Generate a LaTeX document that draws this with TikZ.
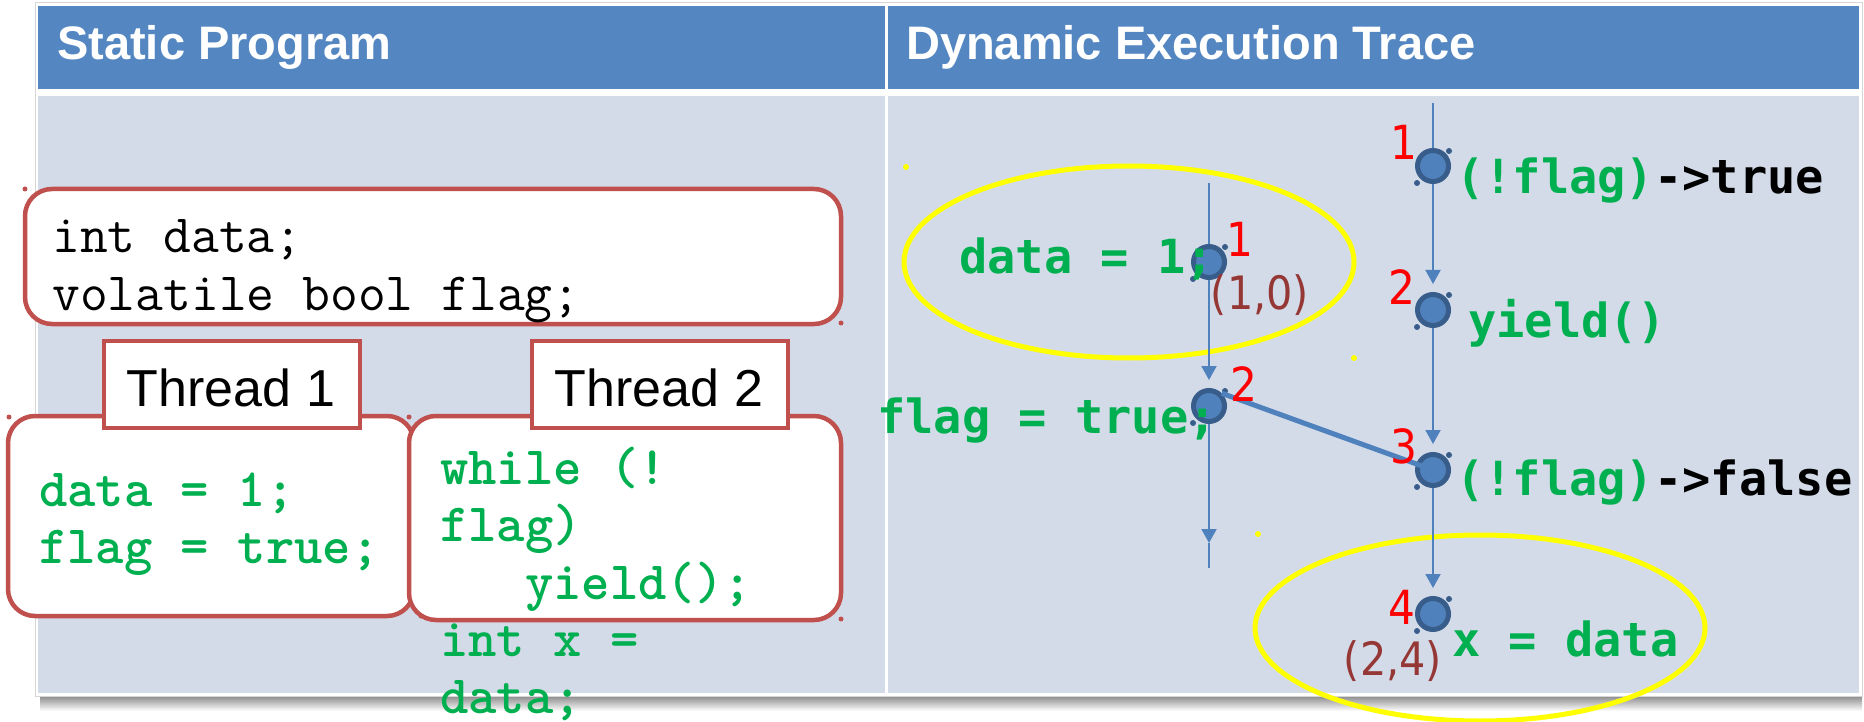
\documentclass[tikz,border=0pt]{standalone}
\usepackage{fontspec}
\setmainfont{Liberation Sans}
\newfontfamily\tracefont{DejaVu Sans Mono}
\newfontfamily\numfont[FakeStretch=0.9]{DejaVu Sans}
\newfontfamily\slabbold{lmmonolt10-bold}[Extension=.otf]
\usetikzlibrary{arrows.meta,calc}

\definecolor{hdrblue}{HTML}{5487C2}
\definecolor{bodyblue}{HTML}{D3DBE9}
\definecolor{frame}{HTML}{D6D6D6}
\definecolor{boxred}{HTML}{C0504D}
\definecolor{codegreen}{HTML}{00B050}
\definecolor{evtfill}{HTML}{4F81BD}
\definecolor{evtedge}{HTML}{385D8A}
\definecolor{flowblue}{HTML}{4F81BD}
\definecolor{pairbrown}{HTML}{953735}
\definecolor{hiyellow}{HTML}{FFFF00}

\tikzset{
  hdrtext/.style={anchor=base west, inner sep=0pt, text=white,
    font=\fontsize{47}{56}\selectfont\bfseries},
  codebox/.style={draw=boxred, line width=4.5pt, fill=white, rounded corners=27pt,
    inner sep=0pt},
  tagbox/.style={draw=boxred, line width=4.5pt, fill=white, inner sep=0pt,
    minimum width=256pt, minimum height=87pt},
  tagtext/.style={anchor=base, inner sep=0pt, font=\fontsize{52}{60}\selectfont},
  decltext/.style={anchor=base west, inner sep=0pt,
    font=\ttfamily\fontsize{54}{57}\selectfont},
  stmt/.style={anchor=base west, inner sep=0pt, text=codegreen,
    font=\slabbold\fontsize{54}{57}\selectfont},
  trace/.style={anchor=base west, inner sep=0pt, text=codegreen,
    font=\tracefont\bfseries\fontsize{47}{57}\selectfont},
  order/.style={anchor=base, inner sep=0pt, text=red,
    font=\numfont\fontsize{47}{57}\selectfont},
  pair/.style={anchor=base, inner sep=0pt, text=pairbrown,
    font=\numfont\fontsize{46}{57}\selectfont},
  evt/.style={circle, fill=evtfill, draw=evtedge, line width=5pt,
    minimum size=31pt, inner sep=0pt},
  flow/.style={draw=flowblue, line width=2pt},
  flowtip/.style={flow, -{Triangle[width=15pt,length=14pt]}, shorten >=8pt},
  sync/.style={draw=flowblue, line width=5pt},
  hilite/.style={draw=hiyellow, line width=5pt},
  handle/.style={fill=evtedge},
}

\begin{document}
\begin{tikzpicture}[x=1pt,y=-1pt]
\useasboundingbox (0,0) rectangle (1864,722);
\fill[white] (0,0) rectangle (1864,722);

% ---- table ----
\shade[top color=black!45, bottom color=white] (40,696) rectangle (1862,711);
\draw[frame, line width=1pt, fill=white] (35,3) rectangle (1862,696);
\fill[hdrblue] (38,6) rectangle (1859,89);
\fill[bodyblue] (38,96) rectangle (1859,693);
\fill[white] (884.5,6) rectangle (887.5,693);
\node[hdrtext] (h1) at (57,60) {Static Program};
\node[hdrtext] (h2) at (906,60) {Dynamic Execution Trace};

% ---- static program ----
\node[codebox, minimum width=816pt, minimum height=135pt] (decl) at (433,256.5) {};
\node[decltext] (d1) at (52,253) {int data;};
\node[decltext] (d2) at (52,310) {volatile bool flag;};

\node[codebox, minimum width=406pt, minimum height=200pt] (body1) at (211,516) {};
\node[codebox, minimum width=432pt, minimum height=204pt] (body2) at (625,518) {};
\node[tagbox] (tag1) at (232,384.5) {};
\node[tagbox] (tag2) at (660,384.5) {};
\node[tagtext] (tag1t) at (231,406) {Thread 1};
\node[tagtext] (tag2t) at (659,406) {Thread 2};

\node[stmt] (s11) at (39,506) {data = 1;};
\node[stmt] (s12) at (39,563) {flag = true;};
\node[stmt] (s21) at (440,484) {while (!};
\node[stmt] (s22) at (440,541) {flag)};
\node[stmt] (s23) at (525,599) {yield();};
\node[stmt] (s24) at (440,656) {int x =};
\node[stmt] (s25) at (440,713) {data;};

% selection handles
\foreach \p in {(25,189),(841,323),(9,417),(409,417),(421,616),(841,619)}
  \fill[boxred] \p circle (2.5pt);

% ---- dynamic trace ----
\draw[hilite] (1129,262) ellipse [x radius=225pt, y radius=96pt];
\draw[hilite] (1480,628) ellipse [x radius=225pt, y radius=93pt];
\foreach \p in {(906,167),(1354,358),(1258,534)}
  \fill[hiyellow] \p circle (3pt);

\coordinate (Ltop) at (1209,183);
\coordinate (Lmid) at (1209,543);
\coordinate (Lbot) at (1209,568);
\coordinate (Rtop) at (1433,103);

\node[evt] (L1) at (1209,262) {};
\node[evt] (L2) at (1209,406) {};
\node[evt] (R1) at (1433,166) {};
\node[evt] (R2) at (1433,310) {};
\node[evt] (R3) at (1433,470) {};
\node[evt] (R4) at (1433,614) {};

\draw[flow] (Ltop) -- (L1);
\draw[flowtip] (L1) -- (L2);
\draw[flowtip, shorten >=0pt] (L2) -- (Lmid);
\draw[flow] (Lmid) -- (Lbot);
\draw[flow] (Rtop) -- (R1);
\draw[flowtip] (R1) -- (R2);
\draw[flowtip] (R2) -- (R3);
\draw[flowtip] (R3) -- (R4);

\foreach \n in {L1,L2,R1,R2,R3,R4}{
  \fill[handle] ($(\n.center)+(16,-15)$) circle (3pt);
  \fill[handle] ($(\n.center)+(-16,17)$) circle (3pt);
}

\draw[sync] (L2.north east) -- (R3.center);

\node[trace] (w1) at (959,273) {data = 1;};
\node[trace] (w2) at (877,433) {flag = true;};
\node[trace] (r1) at (1456,194) {(!flag)\textcolor{black}{->true}};
\node[trace] (r2) at (1468,337) {yield()};
\node[trace] (r3) at (1456,495) {(!flag)\textcolor{black}{->false}};
\node[trace] (r4) at (1452,656) {x = data};

\node[order] (nL1) at (1240,257) {1};
\node[order] (nL2) at (1244,401) {2};
\node[order] (nR1) at (1404,160) {1};
\node[order] (nR2) at (1402,305) {2};
\node[order] (nR3) at (1404,463) {3};
\node[order] (nR4) at (1402,624) {4};

\node[pair] (p1) at (1260,309) {(1,0)};
\node[pair] (p2) at (1393,675) {(2,4)};
\end{tikzpicture}
\end{document}
